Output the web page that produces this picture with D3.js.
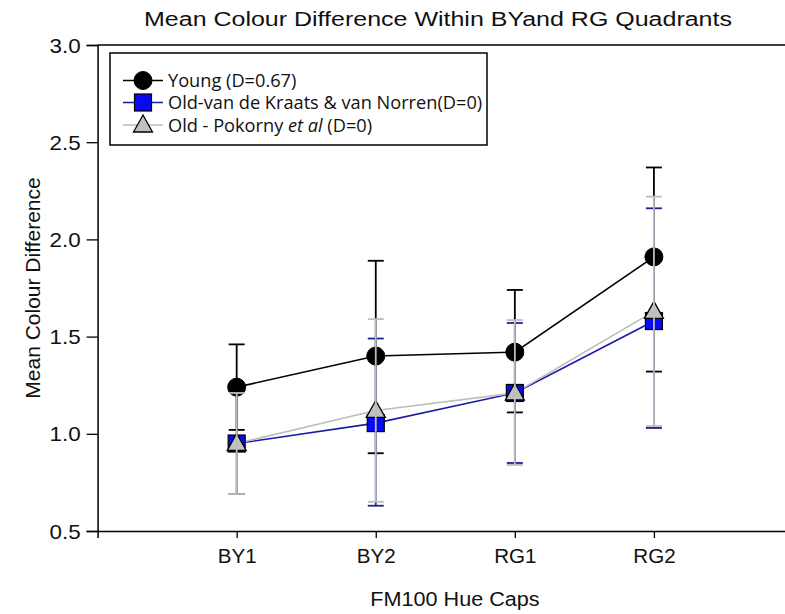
<!DOCTYPE html>
<html><head><meta charset="utf-8">
<script src="https://cdn.jsdelivr.net/npm/d3@7"></script>
<style>body{margin:0;background:#fff}svg{display:block}</style>
</head><body>
<script>
// ---- data ----
const categories = ["BY1", "BY2", "RG1", "RG2"];
const youngMean = [1.24, 1.40, 1.42, 1.91];
const youngUpper = [1.46, 1.89, 1.74, 2.37];
const youngLower = [1.02, 0.90, 1.11, 1.32];
const kraatsMean = [0.95, 1.055, 1.21, 1.58];
const kraatsUpper = [1.22, 1.49, 1.57, 2.16];
const kraatsLower = [0.69, 0.63, 0.85, 1.03];
const pokornyMean = [0.95, 1.12, 1.21, 1.63];
const pokornyUpper = [1.21, 1.59, 1.585, 2.22];
const pokornyLower = [0.69, 0.65, 0.84, 1.04];
const yTicks = [0.5, 1.0, 1.5, 2.0, 2.5, 3.0];
const seriesNames = ["Young (D=0.67)", "Old-van de Kraats & van Norren(D=0)", "Old - Pokorny et al (D=0)"];

const W = 785, H = 614;
const svg = d3.select("body").append("svg").attr("width", W).attr("height", H);

const x = d3.scaleLinear().domain([0, 5]).range([97.6, 793]);
const y = d3.scaleLinear().domain([0.5, 3.0]).range([531, 45]);
const xi = i => x(i + 1);

const axisFont = "'Liberation Sans', Arial, sans-serif";

function stretchedText(parent, tx, ty, sx, anchor, size, str) {
  return parent.append("text")
    .attr("transform", `translate(${tx},${ty}) scale(${sx},1)`)
    .attr("text-anchor", anchor).attr("font-family", axisFont).attr("font-size", size)
    .attr("fill", "#111").text(str);
}

// frame
svg.append("line").attr("x1", x(0)).attr("x2", x(5)).attr("y1", y(3)).attr("y2", y(3))
  .attr("stroke", "#000").attr("stroke-width", 1.5);

// axes
const yAxis = svg.append("g").attr("transform", `translate(${x(0)},0)`)
  .call(d3.axisLeft(y).tickValues(yTicks).tickFormat(d3.format(".1f")).tickSize(11).tickPadding(6));
const xAxis = svg.append("g").attr("transform", `translate(0,${y(0.5)})`)
  .call(d3.axisBottom(x).tickValues([1,2,3,4]).tickFormat(d => categories[d-1]).tickSize(7).tickPadding(12));
[yAxis, xAxis].forEach(g => {
  g.select(".domain").attr("stroke-width", 1.5);
  g.selectAll(".tick line").attr("stroke-width", 1.3);
  g.selectAll("text").attr("font-family", axisFont).attr("font-size", 20).attr("fill", "#111");
});
yAxis.selectAll(".tick text").attr("x", null).attr("dy", null)
  .attr("transform", "translate(-17,7) scale(1.12,1)");
xAxis.selectAll(".tick text").attr("dy", null).attr("y", null)
  .attr("transform", "translate(0,32) scale(1.03,1)");

// titles
stretchedText(svg, 438, 26, 1.25, "middle", 20, "Mean Colour Difference Within BYand RG Quadrants");
stretchedText(svg, 455, 606, 1.03, "middle", 21, "FM100 Hue Caps");
svg.append("text").attr("transform", `translate(40,${(y(0.5)+y(3))/2}) rotate(-90)`).attr("text-anchor", "middle")
  .attr("font-family", axisFont).attr("font-size", 21).attr("fill", "#111").text("Mean Colour Difference");

const series = [
  {mean: youngMean, up: youngUpper, lo: youngLower, line: "#000", bar: "#000", fill: "#000", shape: "circle"},
  {mean: kraatsMean, up: kraatsUpper, lo: kraatsLower, line: "#1a1aa8", bar: "#202090", fill: "#0a0af0", shape: "square"},
  {mean: pokornyMean, up: pokornyUpper, lo: pokornyLower, line: "#bdbdbd", bar: "#bdbdbd", fill: "#c0c0c0", shape: "triangle"}
];

function marker(g, s, cx, cy) {
  if (s.shape === "circle") {
    g.append("circle").attr("cx", cx).attr("cy", cy).attr("r", 9).attr("fill", s.fill).attr("stroke", "#000").attr("stroke-width", 1);
  } else if (s.shape === "square") {
    g.append("rect").attr("x", cx-8.5).attr("y", cy-8.5).attr("width", 17).attr("height", 17)
      .attr("fill", s.fill).attr("stroke", "#000").attr("stroke-width", 1.2);
  } else {
    g.append("path").attr("d", `M${cx},${cy-10}L${cx+9.5},${cy+7}L${cx-9.5},${cy+7}Z`)
      .attr("fill", s.fill).attr("stroke", "#000").attr("stroke-width", 1.3);
  }
}

const line = d3.line().x((d, i) => xi(i)).y(d => y(d));
const gLines = svg.append("g"), gBars = svg.append("g"), gMarks = svg.append("g"), gTop = svg.append("g");

series.forEach((s, k) => {
  gLines.append("path").datum(s.mean).attr("d", line).attr("fill", "none").attr("stroke", s.line).attr("stroke-width", 1.6);
  const target = k === 2 ? gTop : gBars;
  s.mean.forEach((m, i) => {
    const cx = xi(i);
    target.append("line").attr("x1", cx).attr("x2", cx).attr("y1", y(s.up[i])).attr("y2", y(s.lo[i]))
      .attr("stroke", s.bar).attr("stroke-width", 1.8);
    [s.up[i], s.lo[i]].forEach(v => target.append("line").attr("x1", cx-8).attr("x2", cx+8).attr("y1", y(v)).attr("y2", y(v))
      .attr("stroke", s.bar).attr("stroke-width", 1.8));
    marker(gMarks, s, cx, y(m));
  });
});

// legend
const lg = svg.append("g");
lg.append("rect").attr("x", 110).attr("y", 53).attr("width", 377).attr("height", 92)
  .attr("fill", "#fff").attr("stroke", "#000").attr("stroke-width", 1.5);
const rowY = [80.5, 102.5, 125];
series.forEach((s, k) => {
  lg.append("line").attr("x1", 123).attr("x2", 163).attr("y1", rowY[k]).attr("y2", rowY[k]).attr("stroke", s.line).attr("stroke-width", 1.6);
  marker(lg, s, 143, rowY[k]);
  const t = lg.append("text").attr("x", 168).attr("y", rowY[k] + 6.5).attr("font-family", "'Open Sans', sans-serif").attr("font-size", 18.2).attr("fill", "#111");
  if (k === 2) {
    t.append("tspan").text("Old - Pokorny ");
    t.append("tspan").attr("font-style", "italic").text("et al");
    t.append("tspan").text(" (D=0)");
  } else t.text(seriesNames[k]);
});
</script>
</body></html>
